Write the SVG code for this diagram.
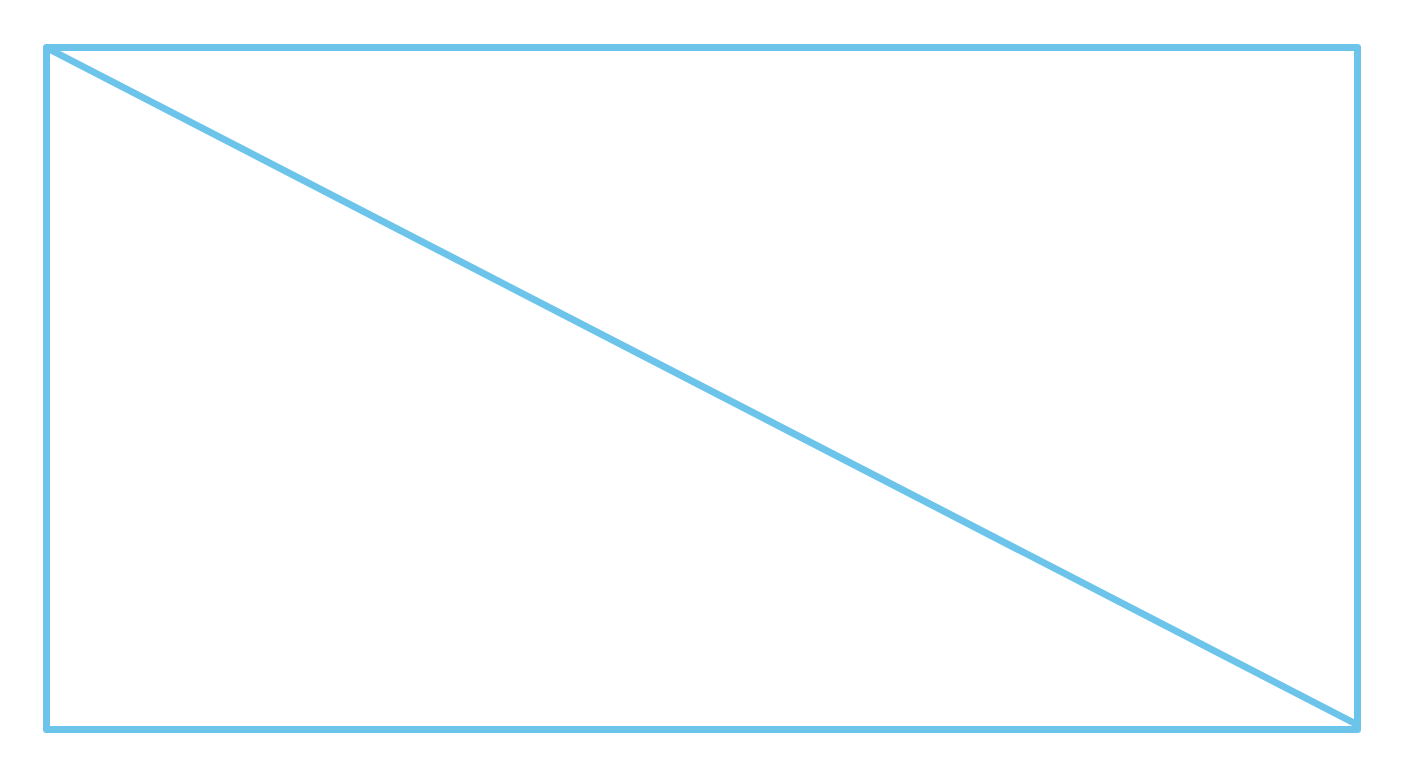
<svg xmlns="http://www.w3.org/2000/svg" width="1408" height="768" viewBox="0 0 1408 768">
<style>.s{fill:none;stroke:#6cc4ea;stroke-width:7;stroke-linejoin:round;stroke-linecap:round}</style>
<rect width="1408" height="768" fill="#fff"/>
<g id="shape">
<rect class="s" x="46.5" y="47.5" width="1311" height="682"/>
<line class="s" x1="47" y1="48" x2="1356" y2="724"/>
</g>
</svg>
